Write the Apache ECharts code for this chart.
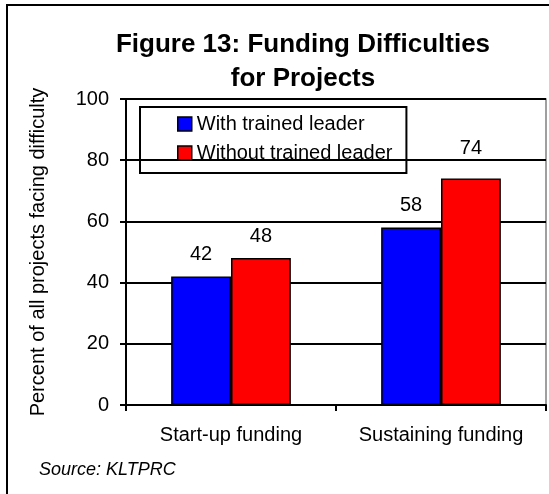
<!DOCTYPE html>
<html>
<head>
<meta charset="utf-8">
<script src="https://cdn.jsdelivr.net/npm/echarts@6/dist/echarts.min.js"></script>
<style>
  html, body { margin: 0; padding: 0; background: #fff; }
  #chart { width: 549px; height: 494px; }
</style>
</head>
<body>
<div id="chart"></div>
<script>
// data
const categories = ['Start-up funding', 'Sustaining funding']
const withTrained = [42, 58]
const withoutTrained = [48, 74]
const seriesNames = ['With trained leader', 'Without trained leader']

const font = 'Liberation Sans, Arial, sans-serif'
const myChart = echarts.init(document.getElementById('chart'))

// the "74" label sits a bit higher than the others in the original
const raisedLabel = { series: 1, index: 1, distance: 20 }

const barSeries = (idx, name, values, color) => ({
  name: name,
  type: 'bar',
  data: values.map((v, i) => (raisedLabel.series === idx && raisedLabel.index === i)
    ? { value: v, label: { distance: raisedLabel.distance } }
    : v),
  barGap: 0,
  barCategoryGap: '43%',
  itemStyle: {
    color: color,
    borderColor: '#000',
    borderWidth: 1.5
  },
  label: {
    show: true,
    position: 'top',
    distance: 12,
    color: '#000',
    fontFamily: font,
    fontSize: 20
  }
})

myChart.setOption({
  animation: false,
  title: {
    text: 'Figure 13: Funding Difficulties\nfor Projects',
    left: 298,
    top: 23,
    textAlign: 'center',
    textStyle: {
      fontFamily: font,
      fontSize: 26,
      fontWeight: 'bold',
      color: '#000',
      lineHeight: 34
    }
  },
  grid: {
    left: 126,
    right: 3,
    top: 99,
    bottom: 89,
    show: true,
    borderColor: '#808080',
    borderWidth: 1.5
  },
  legend: {
    orient: 'vertical',
    left: 140,
    top: 107,
    padding: [7, 14, 10, 37],
    itemGap: 9,
    itemWidth: 14,
    itemHeight: 14,
    itemStyle: { borderColor: '#000', borderWidth: 1.5 },
    borderColor: '#000',
    borderWidth: 2,
    icon: 'rect',
    textStyle: {
      fontFamily: font,
      fontSize: 20,
      lineHeight: 20,
      color: '#000'
    },
    data: seriesNames
  },
  xAxis: {
    type: 'category',
    data: categories,
    axisLine: { lineStyle: { color: '#000', width: 2 } },
    axisTick: { show: true, length: 6, lineStyle: { color: '#000', width: 2 } },
    axisLabel: {
      interval: 0,
      hideOverlap: false,
      margin: 20,
      color: '#000',
      fontFamily: font,
      fontSize: 20
    }
  },
  yAxis: {
    type: 'value',
    min: 0,
    max: 100,
    interval: 20,
    name: 'Percent of all projects facing difficulty',
    nameLocation: 'middle',
    nameRotate: 90,
    nameGap: 78,
    nameTextStyle: {
      fontFamily: font,
      fontSize: 20,
      color: '#000'
    },
    axisLine: { show: true, lineStyle: { color: '#000', width: 2 } },
    axisTick: { show: true, length: 6, lineStyle: { color: '#000', width: 2 } },
    axisLabel: {
      margin: 17,
      color: '#000',
      fontFamily: font,
      fontSize: 20
    },
    splitLine: { show: true, lineStyle: { color: '#000', width: 2 } }
  },
  graphic: [
    {
      type: 'rect',
      x: 7,
      y: 5,
      shape: { x: 0, y: 0, width: 700, height: 700 },
      style: { fill: 'none', stroke: '#000', lineWidth: 2 },
      silent: true
    },
    {
      type: 'text',
      x: 39,
      y: 461,
      style: {
        text: 'Source: KLTPRC',
        font: 'italic 18px Liberation Sans, Arial, sans-serif',
        fill: '#000'
      }
    }
  ],
  series: [
    barSeries(0, seriesNames[0], withTrained, '#0000ff'),
    barSeries(1, seriesNames[1], withoutTrained, '#ff0000')
  ]
})
</script>
</body>
</html>
